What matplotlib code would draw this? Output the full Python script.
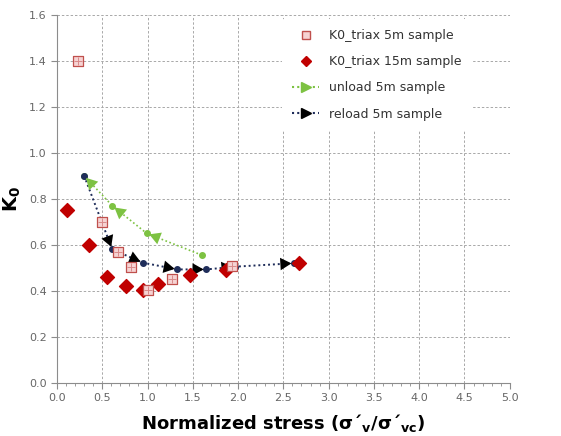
import matplotlib.pyplot as plt
from matplotlib.lines import Line2D

# K0 triax 5m sample
sq_x = [0.23, 0.50, 0.67, 0.82, 1.01, 1.27, 1.93]
sq_y = [1.40, 0.70, 0.57, 0.505, 0.403, 0.45, 0.51]

# K0 triax 15m sample
dm_x = [0.11, 0.35, 0.555, 0.76, 0.946, 1.11, 1.47, 1.87, 2.67]
dm_y = [0.75, 0.60, 0.46, 0.42, 0.405, 0.43, 0.47, 0.49, 0.52]

# unload 5m sample (path order)
un_x = [1.60, 0.99, 0.61, 0.30]
un_y = [0.555, 0.65, 0.77, 0.90]

# reload 5m sample (path order)
re_x = [0.30, 0.61, 0.95, 1.33, 1.65, 1.97, 2.62]
re_y = [0.90, 0.58, 0.522, 0.493, 0.493, 0.505, 0.52]

green = "#7dc242"
navy = "#1f2d5a"

fig = plt.figure(figsize=(5.61, 4.36), dpi=100)
ax = fig.add_axes([0.1016, 0.122, 0.807, 0.844])

ax.set_xlim(0, 5)
ax.set_ylim(0, 1.6)
ax.set_xticks([i * 0.5 for i in range(11)])
ax.set_yticks([i * 0.2 for i in range(9)])
ax.set_xticks([i * 0.1 for i in range(51)], minor=True)
ax.xaxis.set_major_formatter(plt.FormatStrFormatter("%.1f"))
ax.yaxis.set_major_formatter(plt.FormatStrFormatter("%.1f"))
ax.grid(True, which="major", linestyle=(0, (2.5, 2)), color="#a8a8a8", linewidth=0.7)
ax.set_axisbelow(True)
for s in ["top", "right"]:
    ax.spines[s].set_visible(False)
for s in ["left", "bottom"]:
    ax.spines[s].set_color("#8c8c8c")
ax.tick_params(which="major", direction="out", length=4, color="#8c8c8c",
               labelsize=8, labelcolor="#666666")
ax.tick_params(which="minor", direction="out", length=2, color="#8c8c8c")
ax.tick_params(axis="y", which="minor", left=False)

arrow = "-|>,head_length=0.8,head_width=0.45"

# unload path
ax.plot(un_x, un_y, linestyle=(0, (1, 1.5)), color=green, linewidth=1.2,
        marker="o", markersize=4, zorder=3)
for i in range(len(un_x) - 1):
    ax.annotate("", xy=(un_x[i + 1], un_y[i + 1]), xytext=(un_x[i], un_y[i]),
                arrowprops=dict(arrowstyle=arrow, color=green, lw=0,
                                shrinkA=0, shrinkB=2),
                zorder=4)

# reload path
ax.plot(re_x, re_y, linestyle=(0, (1, 1.5)), color=navy, linewidth=1.4,
        marker="o", markersize=4, zorder=3)
for i in range(len(re_x) - 1):
    ax.annotate("", xy=(re_x[i + 1], re_y[i + 1]), xytext=(re_x[i], re_y[i]),
                arrowprops=dict(arrowstyle=arrow, color="black", lw=0,
                                shrinkA=0, shrinkB=2),
                zorder=4)

ax.scatter(dm_x, dm_y, marker="D", s=50, color="#c00000", zorder=5)
ax.scatter(sq_x, sq_y, marker="s", s=60, facecolor="#f6d3d3",
           edgecolor="#c0504d", linewidth=0.9, zorder=6)
ax.scatter(sq_x, sq_y, marker="+", s=30, color="#d98a8a", linewidth=0.7, zorder=7)

handles = [
    Line2D([], [], linestyle="none", marker="s", markersize=6,
           markerfacecolor="#f6d3d3", markeredgecolor="#c0504d"),
    Line2D([], [], linestyle="none", marker="D", markersize=5, color="#c00000"),
    Line2D([], [], linestyle=(0, (1, 1.5)), color=green, marker=">", markersize=7),
    Line2D([], [], linestyle=(0, (1, 1.5)), color=navy, marker=">",
           markersize=7, markerfacecolor="black", markeredgecolor="black"),
]
labels = ["K0_triax 5m sample", "K0_triax 15m sample",
          "unload 5m sample", "reload 5m sample"]
leg = ax.legend(handles, labels, loc="upper right", bbox_to_anchor=(0.93, 1.005),
                fontsize=9, frameon=True, facecolor="white", edgecolor="none",
                framealpha=1, handlelength=2.2, labelspacing=1.05, borderpad=0.8)
for t in leg.get_texts():
    t.set_color("#333333")

ax.set_ylabel("K$_\\mathbf{0}$", fontsize=14, fontweight="bold", labelpad=4)
ax.set_xlabel("Normalized stress (σ´$_\\mathbf{v}$/σ´$_\\mathbf{vc}$)",
              fontsize=13, fontweight="bold", labelpad=6)

fig.savefig("out.png", dpi=100)
